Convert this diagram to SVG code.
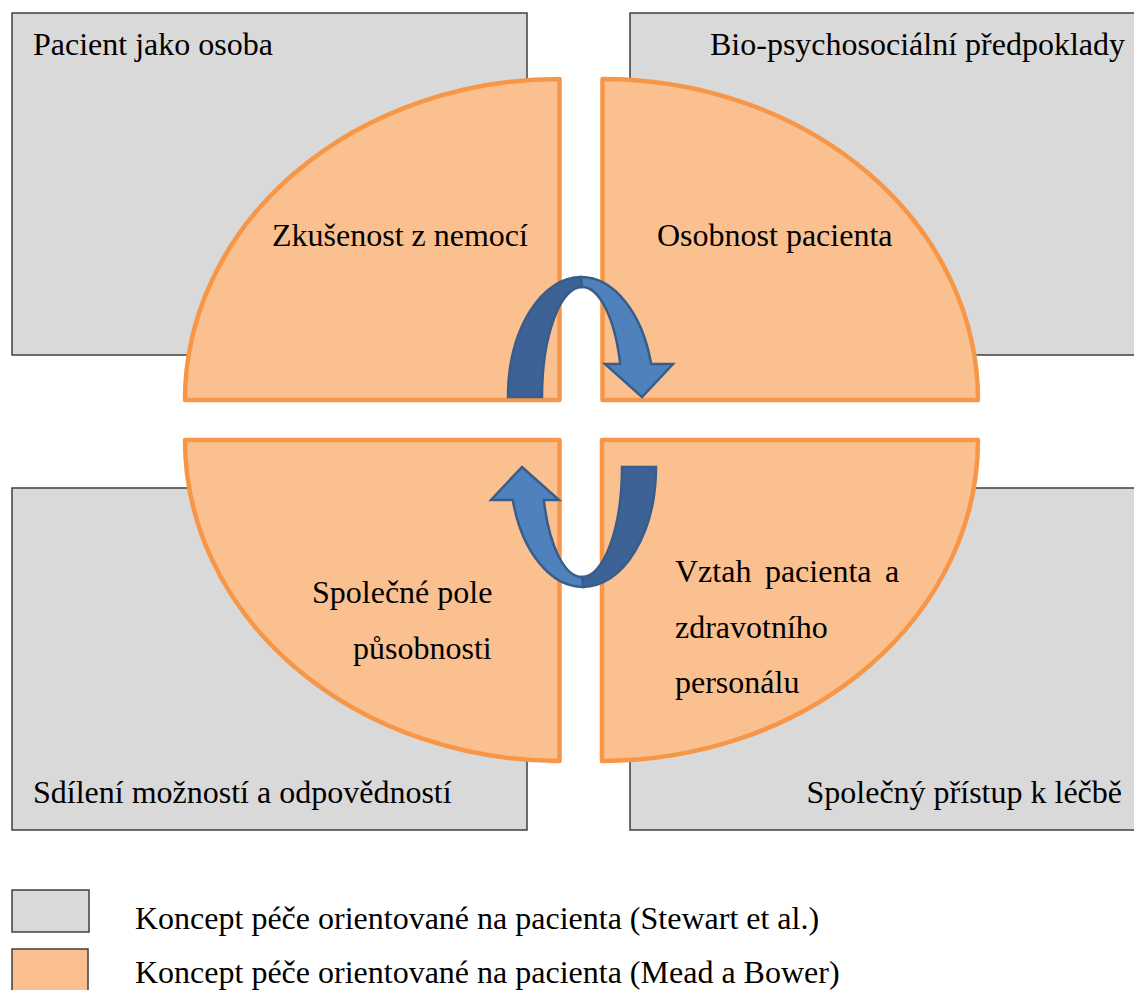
<svg xmlns="http://www.w3.org/2000/svg" width="1134" height="990" viewBox="0 0 1134 990">
  <style>
    .gray { fill: #D9D9D9; stroke: #3F3F3F; stroke-width: 1.5; }
    .orange { fill: #FAC090; stroke: #F79646; stroke-width: 4.5; stroke-linejoin: round; }
    .lbl { font-family: "Liberation Serif", "Times New Roman", serif; font-size: 32px; fill: #000; }
    .arrDark { fill: #3D6296; stroke: #385D8A; stroke-width: 2.5; stroke-linejoin: miter; }
    .arrLight { fill: #4F81BD; stroke: #385D8A; stroke-width: 2.5; stroke-linejoin: miter; }
  </style>
  <rect width="1134" height="990" fill="#FFFFFF"/>

  <g id="box-pacient-jako-osoba">
    <rect class="gray" x="12" y="13" width="515" height="342"/>
    <text class="lbl" x="33" y="55">Pacient jako osoba</text>
  </g>
  <g id="box-bio-psychosocialni">
    <rect class="gray" x="630" y="13" width="520" height="342"/>
    <text class="lbl" x="710" y="55">Bio-psychosociální předpoklady</text>
  </g>
  <g id="box-sdileni">
    <rect class="gray" x="12" y="488" width="515" height="342"/>
    <text class="lbl" x="33" y="803">Sdílení možností a odpovědností</text>
  </g>
  <g id="box-spolecny-pristup">
    <rect class="gray" x="630" y="488" width="520" height="342"/>
    <text class="lbl" x="1122" y="803" text-anchor="end">Společný přístup k léčbě</text>
  </g>

  <g id="q-zkusenost">
    <path class="orange" d="M559.5,400 L185,400 A374.5,321 0 0 1 559.5,79 Z"/>
    <text class="lbl" x="272" y="246">Zkušenost z nemocí</text>
  </g>
  <g id="q-osobnost">
    <path class="orange" d="M602.5,400 L978,400 A375.5,321 0 0 0 602.5,79 Z"/>
    <text class="lbl" x="657" y="246">Osobnost pacienta</text>
  </g>
  <g id="q-spolecne-pole">
    <path class="orange" d="M559.5,440 L185,440 A374.5,321 0 0 0 559.5,761 Z"/>
    <text class="lbl" x="312" y="603">Společné pole</text>
    <text class="lbl" x="353" y="659">působnosti</text>
  </g>
  <g id="q-vztah">
    <path class="orange" d="M602,440 L978,440 A376,321 0 0 1 602,761 Z"/>
    <text class="lbl" x="675" y="582" word-spacing="5.5">Vztah pacienta a</text>
    <text class="lbl" x="675" y="638">zdravotního</text>
    <text class="lbl" x="675" y="693">personálu</text>
  </g>

  <g id="connectors">
    <g id="arrow-top">
      <path class="arrDark" d="M508,397 A73,120 0 0 1 581,277 L582,287 A40,110 0 0 0 542,397 Z"/>
      <path class="arrLight" d="M581,277 A73,120 0 0 1 651.2,364 L673,364 L642,397 L605,364 L620.2,364 A40,110 0 0 0 582,287 Z"/>
    </g>
    <g id="arrow-bottom" transform="rotate(180 582 432)">
      <path class="arrDark" d="M508,397 A73,120 0 0 1 581,277 L582,287 A40,110 0 0 0 542,397 Z"/>
      <path class="arrLight" d="M581,277 A73,120 0 0 1 651.2,364 L673,364 L642,397 L605,364 L620.2,364 A40,110 0 0 0 582,287 Z"/>
    </g>
  </g>

  <g id="legend-stewart">
    <rect class="gray" x="12" y="890" width="77" height="42"/>
    <text class="lbl" x="135" y="929">Koncept péče orientované na pacienta (Stewart et al.)</text>
  </g>
  <g id="legend-mead">
    <rect x="12" y="949" width="76" height="50" fill="#FAC090" stroke="#3F3F3F" stroke-width="1.5"/>
    <text class="lbl" x="135" y="983">Koncept péče orientované na pacienta (Mead a Bower)</text>
  </g>
</svg>
